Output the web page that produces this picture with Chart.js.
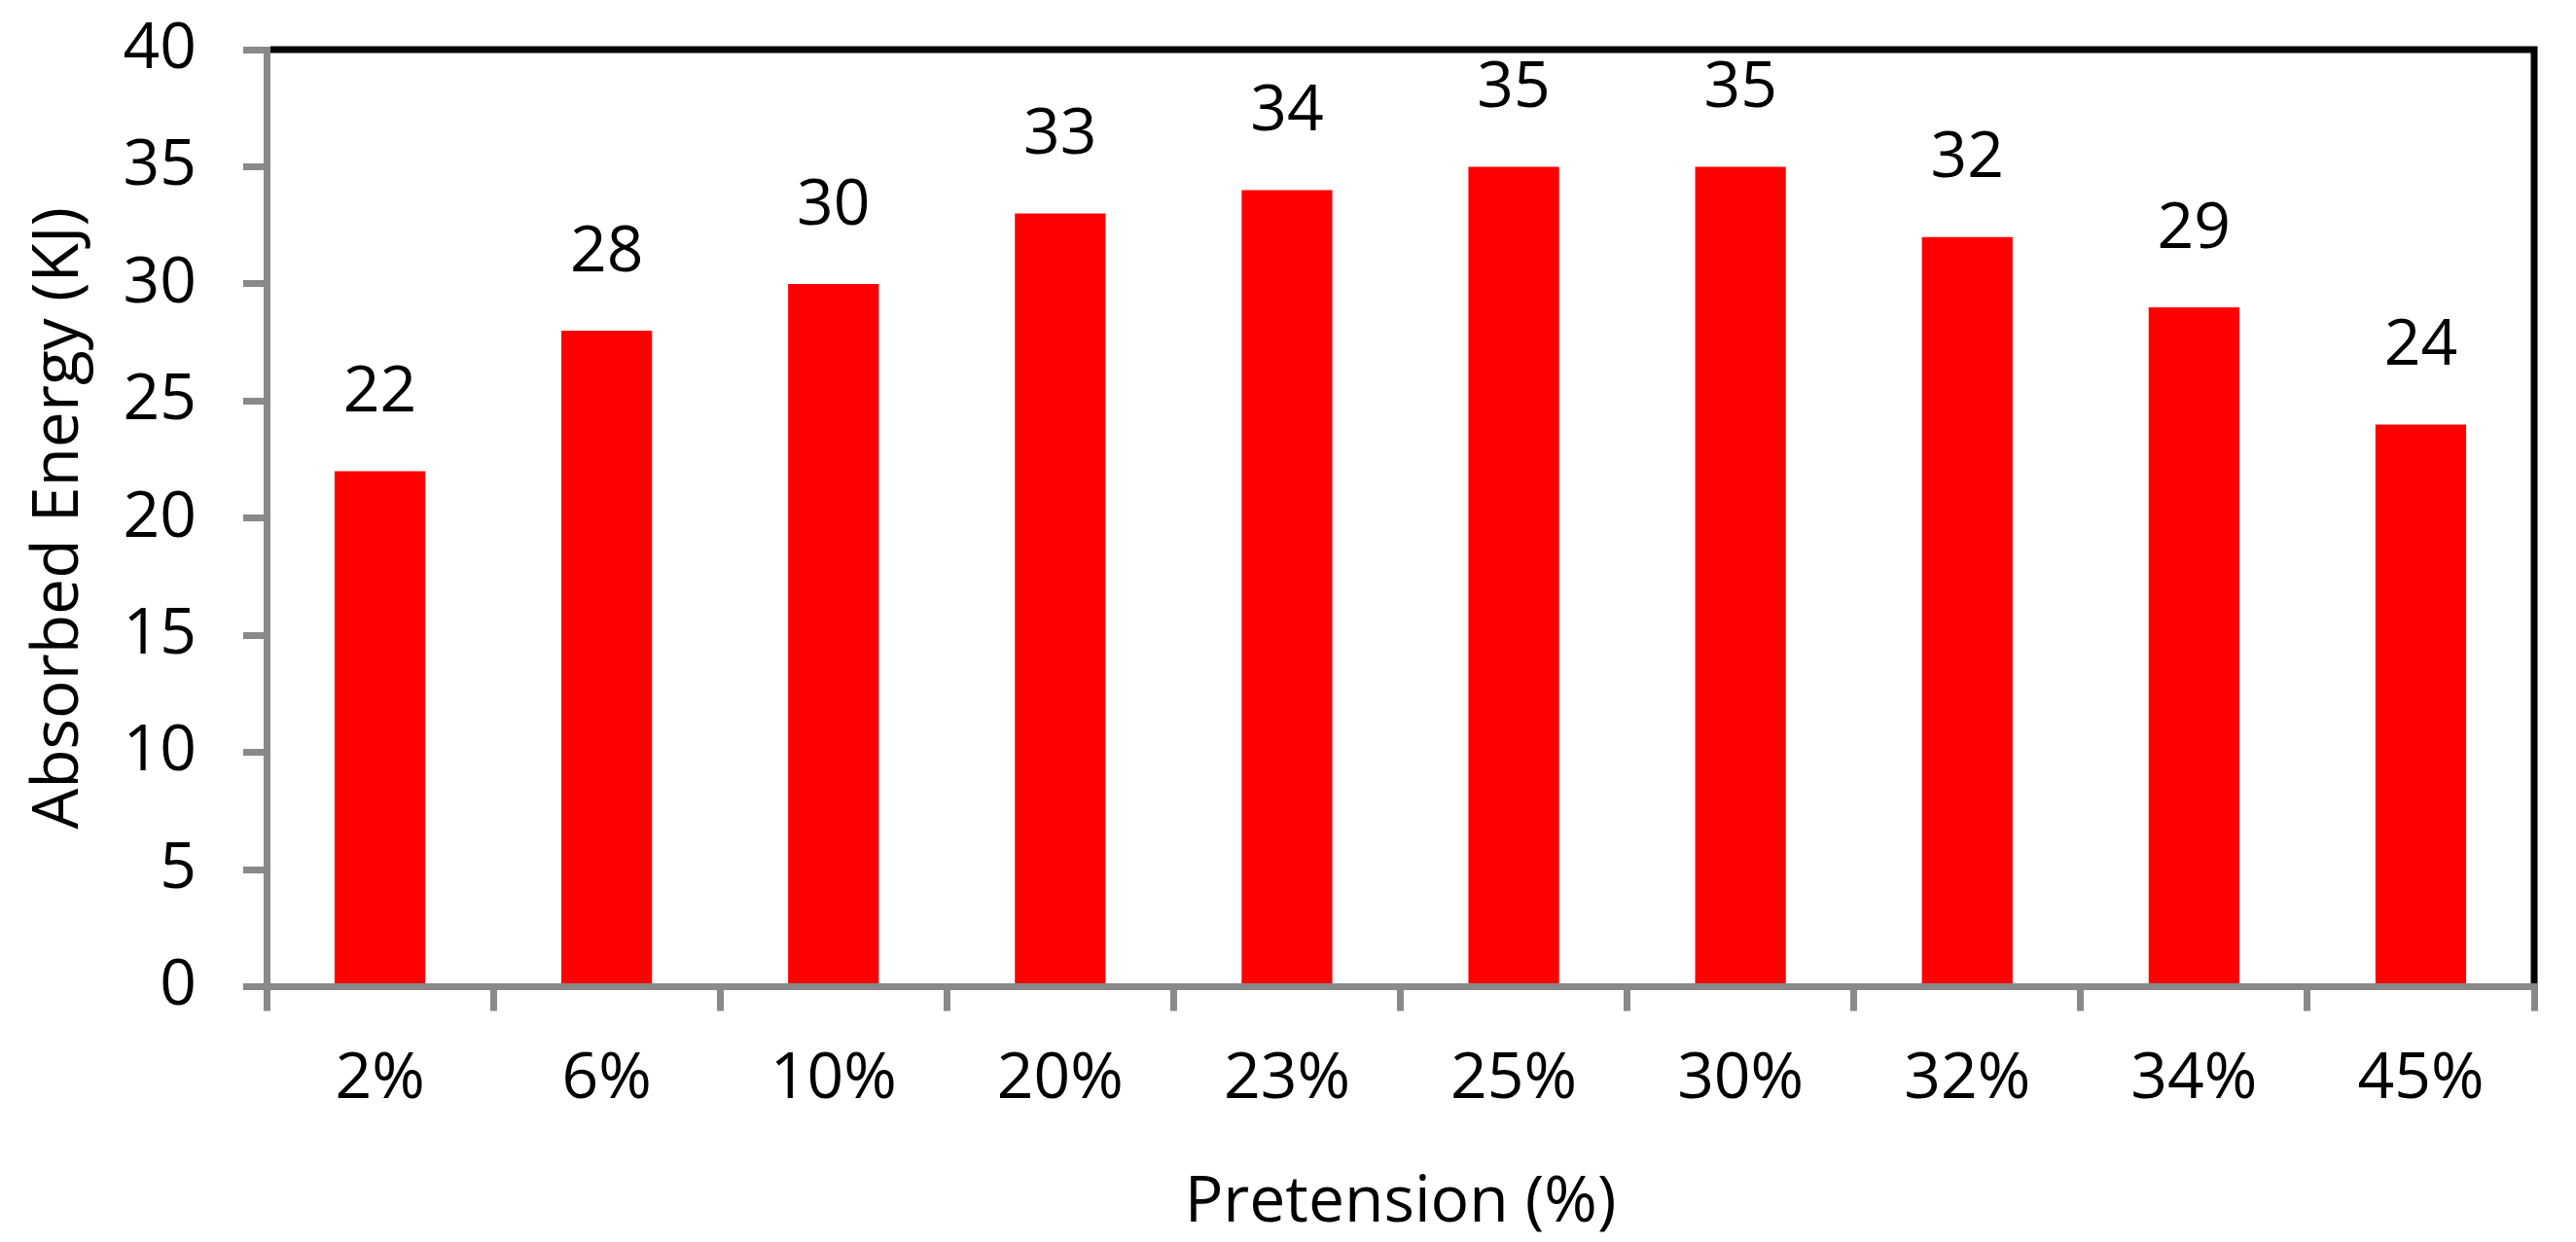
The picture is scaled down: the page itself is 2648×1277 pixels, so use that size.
<!DOCTYPE html>
<html>
<head>
<meta charset="utf-8">
<script src="https://cdn.jsdelivr.net/npm/chart.js@4.4.0/dist/chart.umd.min.js"></script>
<style>
  html, body { margin: 0; padding: 0; background: #fff; }
  canvas { display: block; }
</style>
</head>
<body>
<canvas id="energyChart" width="2648" height="1277"></canvas>
<script>
// data
const pretension = ['2%', '6%', '10%', '20%', '23%', '25%', '30%', '32%', '34%', '45%'];
const energy = [22, 28, 30, 33, 34, 35, 35, 32, 29, 24];
const yTicks = [0, 5, 10, 15, 20, 25, 30, 35, 40];

const axisGray = '#898989';
const fontSize = 66;

Chart.defaults.font.family = '"Open Sans", sans-serif';
Chart.defaults.font.size = fontSize;
Chart.defaults.color = '#000';

// numbers above each bar
const valueLabels = {
  id: 'valueLabels',
  afterDatasetsDraw(chart) {
    const ctx = chart.ctx;
    const meta = chart.getDatasetMeta(0);
    ctx.save();
    ctx.font = fontSize + 'px "Open Sans"';
    ctx.fillStyle = '#000';
    ctx.textAlign = 'center';
    ctx.textBaseline = 'middle';
    meta.data.forEach(function(bar, i) {
      ctx.fillText(energy[i], bar.x, bar.y - 80);
    });
    ctx.restore();
  }
};

// black frame on top and right of the plot area
const plotFrame = {
  id: 'plotFrame',
  beforeDatasetsDraw(chart) {
    const a = chart.chartArea;
    const ctx = chart.ctx;
    ctx.save();
    ctx.strokeStyle = '#000';
    ctx.lineWidth = 7;
    ctx.beginPath();
    ctx.moveTo(a.left + 4, a.top);
    ctx.lineTo(a.right, a.top);
    ctx.lineTo(a.right, a.bottom);
    ctx.stroke();
    ctx.restore();
  }
};

const ctx = document.getElementById('energyChart').getContext('2d');
const energyChart = new Chart(ctx, {
  type: 'bar',
  data: {
    labels: pretension,
    datasets: [{
      data: energy,
      backgroundColor: '#ff0000',
      borderWidth: 0,
      categoryPercentage: 1,
      barPercentage: 0.4
    }]
  },
  options: {
    responsive: false,
    animation: false,
    layout: {
      padding: { top: 51, right: 43, bottom: 0, left: 0 }
    },
    plugins: {
      legend: { display: false },
      tooltip: { enabled: false }
    },
    scales: {
      x: {
        grid: {
          display: true,
          drawOnChartArea: false,
          drawTicks: true,
          tickLength: 25,
          color: axisGray,
          lineWidth: 7,
          offset: true
        },
        border: { display: true, color: axisGray, width: 7, z: 1 },
        ticks: { padding: 31, maxRotation: 0, font: { size: fontSize } },
        title: {
          display: true,
          text: 'Pretension (%)',
          font: { size: fontSize },
          padding: { top: 0, bottom: 0 }
        },
        afterFit: function(scale) {
          scale.height = 262.5;
          scale.paddingLeft = 0;
          scale.paddingRight = 0;
        }
      },
      y: {
        min: 0,
        max: 40,
        afterBuildTicks: function(scale) {
          scale.ticks = yTicks.map(function(v) { return { value: v }; });
        },
        grid: {
          display: true,
          drawOnChartArea: false,
          drawTicks: true,
          tickLength: 24,
          color: axisGray,
          lineWidth: 7
        },
        border: { display: true, color: axisGray, width: 7 },
        ticks: { padding: 48, font: { size: fontSize } },
        title: {
          display: true,
          text: 'Absorbed Energy (KJ)',
          font: { size: fontSize },
          padding: { top: 22, bottom: 0 }
        },
        afterFit: function(scale) {
          scale.width = 274;
          scale.paddingTop = 0;
          scale.paddingBottom = 0;
        }
      }
    }
  },
  plugins: [plotFrame, valueLabels]
});
</script>
</body>
</html>
